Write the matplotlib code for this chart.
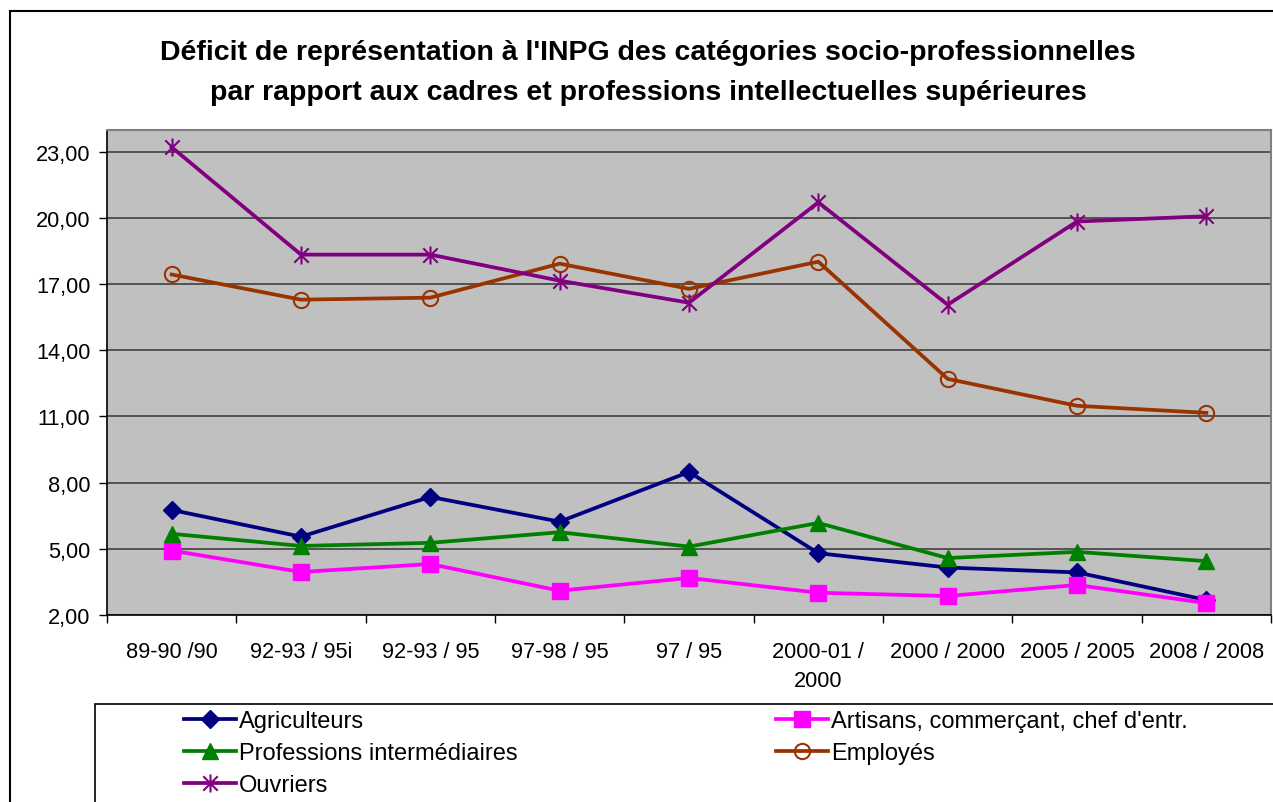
import matplotlib
matplotlib.use("Agg")
import matplotlib.pyplot as plt
from matplotlib.path import Path
from matplotlib.patches import Rectangle
from matplotlib.ticker import FuncFormatter, FixedLocator

plt.rcParams["font.family"] = ["Liberation Sans", "DejaVu Sans"]

# categories (x axis)
categories = [
    "89-90 /90", "92-93 / 95i", "92-93 / 95", "97-98 / 95", "97 / 95",
    "2000-01 /\n2000", "2000 / 2000", "2005 / 2005", "2008 / 2008",
]

agriculteurs = [6.76, 5.55, 7.35, 6.23, 8.48, 4.80, 4.15, 3.93, 2.68]
artisans = [4.92, 3.95, 4.31, 3.10, 3.68, 3.01, 2.86, 3.36, 2.54]
prof_inter = [5.68, 5.13, 5.27, 5.75, 5.10, 6.17, 4.58, 4.86, 4.44]
employes = [17.43, 16.29, 16.38, 17.92, 16.78, 18.01, 12.70, 11.48, 11.16]
ouvriers = [23.20, 18.33, 18.33, 17.15, 16.15, 20.70, 16.06, 19.83, 20.07]

y_ticks = [2, 5, 8, 11, 14, 17, 20, 23]

title = ("Déficit de représentation à l'INPG des catégories socio-professionnelles\n"
         "par rapport aux cadres et professions intellectuelles supérieures")

# asterisk marker like the Excel "star"
star = Path(
    [(0, -1), (0, 1), (-0.8, -0.8), (0.8, 0.8), (-0.8, 0.8), (0.8, -0.8)],
    [Path.MOVETO, Path.LINETO, Path.MOVETO, Path.LINETO, Path.MOVETO, Path.LINETO],
)

W, H = 1273, 803
fig = plt.figure(figsize=(W / 100, H / 100), dpi=100)

# outer chart border
fig.patches.append(Rectangle((10 / W, -0.05), 1.1, 1 - 12 / H + 0.05,
                             transform=fig.transFigure, fill=False,
                             edgecolor="black", linewidth=1.5))

ax = fig.add_axes([107 / W, 1 - 616 / H, (1271 - 107) / W, (616 - 130.5) / H])
ax.set_facecolor("#C0C0C0")

x = list(range(len(categories)))
lw = 2.7
ax.plot(x, agriculteurs, color="#000080", lw=lw, marker="D", ms=9.5,
        mfc="#000080", mec="#000080", label="Agriculteurs", zorder=5)
ax.plot(x, artisans, color="#FF00FF", lw=lw, marker="s", ms=11,
        mfc="#FF00FF", mec="#FF00FF", label="Artisans, commerçant, chef d'entr.", zorder=5)
ax.plot(x, prof_inter, color="#008000", lw=lw, marker="^", ms=12,
        mfc="#008000", mec="#008000", label="Professions intermédiaires", zorder=5)
ax.plot(x, employes, color="#993300", lw=lw, marker="o", ms=11,
        mfc="none", mec="#993300", mew=1.5, label="Employés", zorder=5)
ax.plot(x, ouvriers, color="#800080", lw=lw, marker=star, ms=13,
        mec="#800080", mew=1.5, label="Ouvriers", zorder=5)

ax.set_xlim(-0.5, len(categories) - 0.5)
ax.set_ylim(2, 24)
ax.set_yticks(y_ticks)
ax.yaxis.set_major_formatter(FuncFormatter(lambda v, p: f"{v:.2f}".replace(".", ",")))
ax.grid(axis="y", color="#404040", linewidth=1.2)
ax.set_axisbelow(True)

ax.set_xticks(x)
ax.set_xticklabels(categories, linespacing=1.5)
ax.xaxis.set_minor_locator(FixedLocator([i - 0.5 for i in range(len(categories) + 1)]))
ax.tick_params(axis="x", which="major", length=0, pad=19, labelsize=15.7)
ax.tick_params(axis="x", which="minor", length=6, width=1, direction="out")
ax.tick_params(axis="y", length=6, width=1, direction="out", labelsize=15.7, pad=6)

for side in ("top", "right"):
    ax.spines[side].set_color("#808080")
    ax.spines[side].set_linewidth(1.5)
for side in ("left", "bottom"):
    ax.spines[side].set_color("black")
    ax.spines[side].set_linewidth(1.2)

fig.text(648 / W, 1 - 73 / H, title, ha="center", va="center",
         fontsize=20.5, fontweight="bold", linespacing=1.66)

# legend box
fig.patches.append(Rectangle((95 / W, -0.05), 1.1, 1 - 705 / H + 0.05,
                             transform=fig.transFigure, fill=False,
                             edgecolor="black", linewidth=1.2))

handles, labels = ax.get_legend_handles_labels()
col1 = [0, 2, 4]
col2 = [1, 3]
leg_kw = dict(frameon=False, fontsize=17, handlelength=2.2, handletextpad=0.12,
              labelspacing=0.42, borderpad=0, borderaxespad=0, loc="upper left")
fig.legend([handles[i] for i in col1], [labels[i] for i in col1],
           bbox_to_anchor=(184 / W, 1 - 711 / H), **leg_kw)
fig.legend([handles[i] for i in col2], [labels[i] for i in col2],
           bbox_to_anchor=(776 / W, 1 - 711 / H), **leg_kw)

fig.savefig("out.png", dpi=100)
